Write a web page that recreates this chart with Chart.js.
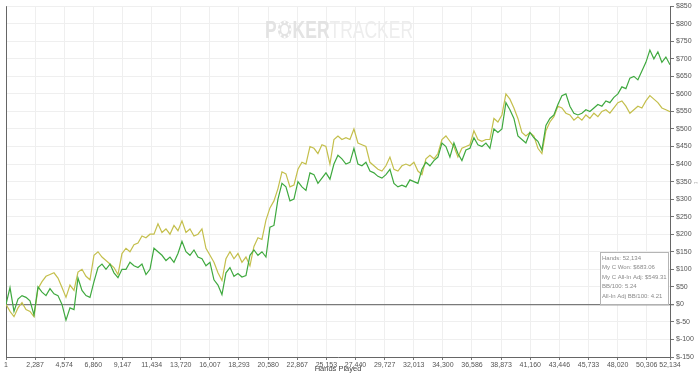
<!DOCTYPE html>
<html>
<head>
<meta charset="utf-8">
<script src="https://cdn.jsdelivr.net/npm/chart.js@4"></script>
<style>
html, body { margin: 0; padding: 0; background: #fff; }
#wrap { width: 700px; height: 374px; position: relative; }
</style>
</head>
<body>
<div id="wrap"><canvas id="graph"></canvas></div>
<script>
// Hands sampled along the x axis
const hands = [1, 315, 629, 943, 1257, 1571, 1885, 2199, 2513, 2827, 3141, 3455, 3769, 4083, 4397, 4711, 5025, 5339, 5653, 5967,
    6281, 6595, 6909, 7223, 7537, 7851, 8165, 8479, 8793, 9107, 9421, 9735, 10049, 10363, 10677, 10991, 11305, 11619, 11933, 12247,
    12561, 12875, 13189, 13503, 13817, 14131, 14445, 14759, 15073, 15387, 15701, 16015, 16329, 16643, 16957, 17271, 17585, 17899, 18213, 18527,
    18841, 19155, 19469, 19783, 20097, 20411, 20725, 21039, 21353, 21667, 21981, 22295, 22609, 22923, 23237, 23551, 23865, 24179, 24493, 24807,
    25121, 25435, 25749, 26063, 26377, 26691, 27005, 27319, 27633, 27947, 28261, 28575, 28889, 29203, 29517, 29831, 30145, 30459, 30773, 31087,
    31401, 31715, 32029, 32343, 32657, 32971, 33285, 33599, 33913, 34227, 34541, 34855, 35169, 35483, 35797, 36111, 36425, 36739, 37053, 37367,
    37681, 37995, 38309, 38623, 38937, 39251, 39565, 39879, 40193, 40507, 40821, 41135, 41449, 41763, 42077, 42391, 42705, 43019, 43333, 43647,
    43961, 44275, 44589, 44903, 45217, 45531, 45845, 46159, 46473, 46787, 47101, 47415, 47729, 48043, 48357, 48671, 48985, 49299, 49613, 49927,
    50241, 50555, 50869, 51183, 51497, 51811, 52134];

// My C Won ($)
const wonSeries = [0, 48, -20, 15, 25, 20, 10, -30, 50, 35, 25, 45, 30, 25, 0, -45, -10, -15, 75, 40,
    25, 20, 65, 105, 115, 100, 115, 90, 76, 100, 100, 120, 110, 105, 115, 85, 100, 160, 150, 140,
    125, 135, 120, 145, 180, 150, 140, 155, 135, 130, 110, 120, 70, 55, 28, 90, 105, 80, 88, 78,
    82, 140, 155, 140, 150, 135, 220, 225, 300, 345, 335, 295, 300, 350, 335, 325, 375, 370, 345, 360,
    375, 357, 400, 425, 415, 400, 405, 445, 400, 395, 405, 380, 375, 365, 360, 370, 385, 345, 335, 340,
    335, 355, 350, 345, 385, 405, 395, 410, 420, 460, 450, 420, 460, 430, 410, 440, 445, 475, 455, 450,
    460, 445, 500, 490, 500, 575, 555, 530, 480, 470, 460, 490, 475, 465, 440, 510, 530, 540, 570, 595,
    600, 565, 545, 540, 545, 555, 550, 560, 570, 565, 580, 575, 590, 600, 620, 615, 645, 650, 640, 665,
    690, 725, 700, 720, 690, 705, 683];

// My C All-In Adj ($)
const allInSeries = [0, -20, -35, -10, 5, -15, -20, -35, 45, 65, 80, 85, 90, 75, 48, 20, 55, 40, 92, 100,
    80, 70, 140, 150, 135, 125, 115, 105, 85, 145, 160, 150, 170, 175, 195, 190, 200, 200, 230, 205,
    215, 200, 225, 210, 238, 205, 215, 195, 200, 215, 160, 140, 120, 90, 68, 130, 150, 130, 145, 120,
    135, 110, 165, 190, 185, 240, 275, 295, 330, 378, 372, 335, 340, 385, 405, 400, 450, 445, 430, 455,
    450, 400, 470, 480, 470, 475, 470, 500, 460, 455, 450, 405, 395, 385, 380, 395, 420, 385, 380, 395,
    400, 395, 405, 380, 370, 415, 425, 415, 430, 470, 480, 465, 450, 420, 445, 450, 455, 495, 470, 465,
    470, 470, 530, 520, 540, 600, 585, 560, 530, 490, 480, 490, 480, 445, 430, 495, 520, 535, 565, 560,
    545, 540, 525, 535, 525, 540, 530, 545, 535, 550, 555, 545, 560, 575, 580, 565, 545, 555, 565, 560,
    580, 595, 585, 575, 560, 555, 549];

// Axis ticks
const handTicks = [1, 2287, 4574, 6860, 9147, 11434, 13720, 16007, 18293, 20580, 22867, 25153,
    27440, 29727, 32013, 34300, 36586, 38873, 41160, 43446, 45733, 48020, 50306, 52134];

// Summary box
const summaryLabels = ['Hands', 'My C Won', 'My C All-In Adj', 'BB/100', 'All-In Adj BB/100'];
const summaryValues = ['52,134', '$683.06', '$549.31', '5.24', '4.21'];

const FONT = "'Liberation Sans', Arial, sans-serif";

function drawWatermark(ctx, area) {
    ctx.save();
    const bold = 'bold 23px ' + FONT;
    const thin = '23px ' + FONT;
    ctx.font = bold;
    const wP = ctx.measureText('P').width;
    const wKer = ctx.measureText('KER').width;
    ctx.font = thin;
    const wTr = ctx.measureText('TRACKER').width;
    const chip = 19;
    const total = wP + chip + 2 + wKer + wTr;
    const sx = 148 / total;
    ctx.translate(265, 38);
    ctx.scale(sx, 1);
    ctx.textBaseline = 'alphabetic';
    ctx.fillStyle = '#e3e3e3';
    ctx.font = bold;
    ctx.fillText('P', 0, 0);
    // chip
    const cx = wP + chip / 2 + 1, cy = -8.5;
    ctx.beginPath();
    ctx.arc(cx, cy, 9, 0, Math.PI * 2);
    ctx.fill();
    ctx.fillStyle = '#fff';
    for (let k = 0; k < 8; k++) {
        const a = k * Math.PI / 4;
        ctx.beginPath();
        ctx.arc(cx + Math.cos(a) * 7.5, cy + Math.sin(a) * 7.5, 1.3, 0, Math.PI * 2);
        ctx.fill();
    }
    ctx.beginPath();
    ctx.arc(cx, cy, 4.5, 0, Math.PI * 2);
    ctx.fill();
    ctx.fillStyle = '#e3e3e3';
    ctx.fillText('KER', wP + chip + 2, 0);
    ctx.fillStyle = '#ededed';
    ctx.font = thin;
    ctx.fillText('TRACKER', wP + chip + 2 + wKer, 0);
    ctx.restore();
}

const decorPlugin = {
    id: 'decor',
    beforeDatasetsDraw(chart) {
        const ctx = chart.ctx;
        const a = chart.chartArea;
        drawWatermark(ctx, a);
        // left border
        ctx.save();
        ctx.strokeStyle = '#666';
        ctx.lineWidth = 1;
        ctx.beginPath();
        ctx.moveTo(a.left + 0.5, a.top);
        ctx.lineTo(a.left + 0.5, a.bottom);
        ctx.stroke();
        ctx.restore();
    },
    afterDraw(chart) {
        const ctx = chart.ctx;
        const y0 = chart.scales.y.getPixelForValue(0);
        // summary box
        ctx.save();
        const bx = 600, by = 252, bw = 68, bh = y0 - 252;
        ctx.fillStyle = '#fff';
        ctx.fillRect(bx, by, bw, bh);
        ctx.strokeStyle = '#b5b5b5';
        ctx.lineWidth = 1;
        ctx.strokeRect(bx + 0.5, by + 0.5, bw, bh);
        ctx.fillStyle = '#8a8a8a';
        ctx.font = '6px ' + FONT;
        ctx.textBaseline = 'middle';
        summaryLabels.forEach((lab, k) => {
            ctx.fillText(lab + ': ' + summaryValues[k], bx + 2, by + 6 + k * 9.5);
        });
        // small axis marker on the right
        ctx.fillStyle = '#777';
        ctx.font = '6px ' + FONT;
        ctx.textAlign = 'left';
        ctx.fillText('\u2194', 693, chart.scales.y.getPixelForValue(350) + 1);
        ctx.restore();
    }
};

const ctx = document.getElementById('graph').getContext('2d');
new Chart(ctx, {
    type: 'line',
    data: {
        datasets: [{
            label: 'My C Won',
            data: hands.map((h, k) => ({ x: h, y: wonSeries[k] })),
            borderColor: '#3fa93f',
            borderWidth: 1.2,
            pointRadius: 0,
            tension: 0
        }, {
            label: 'My C All-In Adj',
            data: hands.map((h, k) => ({ x: h, y: allInSeries[k] })),
            borderColor: '#c4bf4c',
            borderWidth: 1.2,
            pointRadius: 0,
            tension: 0
        }]
    },
    options: {
        responsive: true,
        maintainAspectRatio: false,
        animation: false,
        layout: { padding: { top: 4, left: 6, right: 0, bottom: 0 } },
        plugins: {
            legend: { display: false },
            tooltip: { enabled: false }
        },
        scales: {
            x: {
                type: 'linear',
                min: 1,
                max: 52134,
                afterBuildTicks: (s) => { s.ticks = handTicks.map(v => ({ value: v })); },
                afterFit: (s) => { s.height = 17; },
                ticks: {
                    autoSkip: false,
                    maxRotation: 0,
                    padding: 1,
                    color: '#555',
                    font: { family: FONT, size: 7 },
                    callback: (v) => v.toLocaleString('en-US')
                },
                grid: { color: '#efefef', tickColor: '#777', tickLength: 3 },
                border: { color: '#666' },
                title: {
                    display: true,
                    text: 'Hands Played',
                    color: '#444',
                    font: { family: FONT, size: 7.5 },
                    padding: { top: 0, bottom: 1 }
                }
            },
            y: {
                position: 'right',
                min: -150,
                max: 850,
                afterFit: (s) => { s.width = 30; },
                ticks: {
                    stepSize: 50,
                    padding: 2,
                    color: '#555',
                    font: { family: FONT, size: 7 },
                    callback: (v) => '$' + v
                },
                grid: {
                    color: (c) => (c.tick && c.tick.value === 0) ? '#7a7a7a' : '#efefef',
                    lineWidth: (c) => (c.tick && c.tick.value === 0) ? 1.3 : 1,
                    tickColor: '#777',
                    tickLength: 4
                },
                border: { color: '#666' }
            }
        }
    },
    plugins: [decorPlugin]
});
</script>
</body>
</html>
